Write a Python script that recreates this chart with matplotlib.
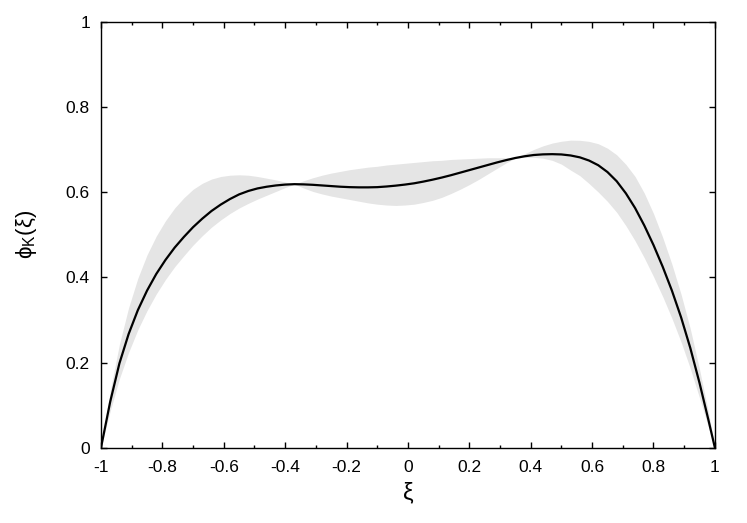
import numpy as np
import matplotlib
matplotlib.use('Agg')
import matplotlib.pyplot as plt
from matplotlib.ticker import MultipleLocator

# xi grid and values
xi = [-1.00, -0.97, -0.94, -0.91, -0.88, -0.85, -0.82, -0.79, -0.76, -0.73,
      -0.70, -0.67, -0.64, -0.61, -0.58, -0.55, -0.52, -0.49, -0.46, -0.43,
      -0.40, -0.37, -0.34, -0.31, -0.28, -0.25, -0.22, -0.19, -0.16, -0.13,
      -0.10, -0.07, -0.04, -0.01, 0.02, 0.05, 0.08, 0.11, 0.14, 0.17,
      0.20, 0.23, 0.26, 0.29, 0.32, 0.35, 0.38, 0.41, 0.44, 0.47,
      0.50, 0.53, 0.56, 0.59, 0.62, 0.65, 0.68, 0.71, 0.74, 0.77,
      0.80, 0.83, 0.86, 0.89, 0.92, 0.95, 0.98, 1.00]

# central curve
phi_mid = [0.0, 0.108, 0.198, 0.267, 0.323, 0.369, 0.408, 0.441, 0.47, 0.495,
           0.518, 0.538, 0.556, 0.571, 0.584, 0.595, 0.603, 0.609, 0.613, 0.616,
           0.618, 0.619, 0.6185, 0.6175, 0.616, 0.6145, 0.613, 0.612, 0.6115, 0.6115,
           0.612, 0.6135, 0.6155, 0.618, 0.621, 0.625, 0.6295, 0.6345, 0.64, 0.646,
           0.652, 0.658, 0.664, 0.67, 0.6755, 0.6805, 0.6845, 0.6875, 0.689, 0.6895,
           0.6888, 0.6864, 0.682, 0.6745, 0.6635, 0.6475, 0.626, 0.5975, 0.563, 0.522,
           0.476, 0.425, 0.369, 0.306, 0.234, 0.152, 0.062, 0.0]

# upper and lower edge of the grey band
phi_up = [0.0, 0.133, 0.243, 0.329, 0.398, 0.453, 0.497, 0.533, 0.563, 0.587,
          0.607, 0.621, 0.631, 0.637, 0.640, 0.641, 0.640, 0.637, 0.633, 0.629,
          0.624, 0.619, 0.627, 0.634, 0.640, 0.645, 0.649, 0.653, 0.656, 0.659,
          0.661, 0.664, 0.666, 0.668, 0.670, 0.672, 0.674, 0.675, 0.677, 0.678,
          0.679, 0.680, 0.681, 0.681, 0.681, 0.6805, 0.6905, 0.7005, 0.709, 0.7155,
          0.7198, 0.7224, 0.722, 0.7195, 0.714, 0.7035, 0.688, 0.6655, 0.637, 0.598,
          0.55, 0.494, 0.431, 0.36, 0.279, 0.184, 0.08, 0.0]

phi_lo = [0.0, 0.086, 0.162, 0.224, 0.277, 0.322, 0.361, 0.395, 0.425, 0.451,
          0.476, 0.498, 0.518, 0.535, 0.55, 0.563, 0.574, 0.584, 0.593, 0.602,
          0.611, 0.619, 0.610, 0.602, 0.596, 0.591, 0.587, 0.583, 0.579, 0.575,
          0.572, 0.570, 0.569, 0.570, 0.572, 0.576, 0.581, 0.588, 0.597, 0.607,
          0.618, 0.630, 0.643, 0.656, 0.669, 0.6805, 0.682, 0.682, 0.680, 0.675,
          0.666, 0.652, 0.639, 0.6205, 0.6005, 0.5785, 0.553, 0.5215, 0.486, 0.446,
          0.402, 0.355, 0.304, 0.248, 0.186, 0.117, 0.046, 0.0]

plt.rcParams['font.family'] = ['Liberation Sans', 'DejaVu Sans']
plt.rcParams['axes.unicode_minus'] = False
plt.rcParams['mathtext.fontset'] = 'custom'
plt.rcParams['mathtext.rm'] = 'Liberation Sans'
plt.rcParams['mathtext.it'] = 'Liberation Sans'

fig = plt.figure(figsize=(7.47, 5.23), dpi=100)
ax = fig.add_axes([0.1352, 0.144, 0.8218, 0.814])

ax.fill_between(xi, phi_lo, phi_up, color='#e5e5e5', linewidth=0)
ax.plot(xi, phi_mid, color='black', linewidth=1.6)

ax.set_xlim(-1, 1)
ax.set_ylim(0, 1)
ax.xaxis.set_major_locator(MultipleLocator(0.2))
ax.xaxis.set_minor_locator(MultipleLocator(0.1))
ax.yaxis.set_major_locator(MultipleLocator(0.2))
ax.xaxis.set_major_formatter(plt.FuncFormatter(lambda v, p: '%g' % round(v, 1)))
ax.yaxis.set_major_formatter(plt.FuncFormatter(lambda v, p: '%g' % round(v, 1)))

ax.tick_params(which='both', direction='in', top=True, right=True, labelsize=12.5)
ax.tick_params(which='major', length=4.5, width=1)
ax.tick_params(which='minor', length=2.5, width=1)
ax.tick_params(axis='x', pad=9)
ax.tick_params(axis='y', pad=8)
for s in ax.spines.values():
    s.set_linewidth(1)

ax.set_xlabel('ξ', fontsize=17, labelpad=5)
ax.set_ylabel(r'$\mathrm{\phi_K(\xi)}$', fontsize=16, labelpad=19)

fig.savefig('out.png', dpi=100)
